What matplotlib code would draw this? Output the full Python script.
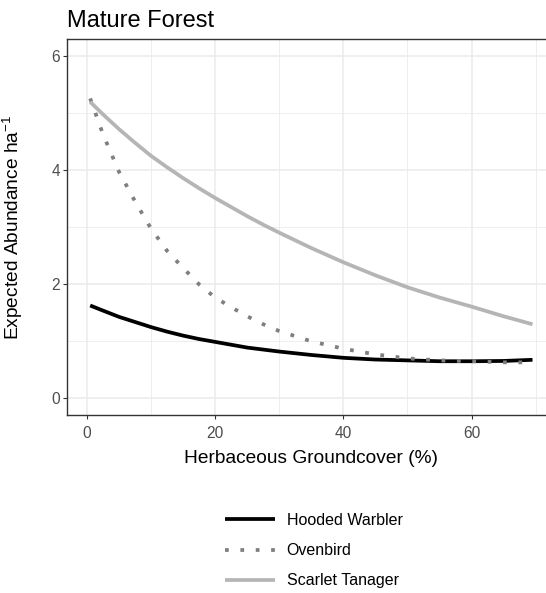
import matplotlib
matplotlib.use("Agg")
import matplotlib.pyplot as plt
from matplotlib.ticker import MultipleLocator

plt.rcParams["font.family"] = ["Liberation Sans", "DejaVu Sans"]
plt.rcParams["mathtext.fontset"] = "custom"
plt.rcParams["mathtext.rm"] = "Liberation Sans"
plt.rcParams["mathtext.it"] = "Liberation Sans:italic"

# herbaceous groundcover (%)
cover = [0.5, 2.5, 5, 7.5, 10, 12.5, 15, 17.5, 20, 22.5, 25, 27.5, 30,
         35, 40, 45, 50, 55, 60, 65, 69.5]

hooded_warbler = [1.62, 1.53, 1.42, 1.33, 1.24, 1.16, 1.09, 1.03, 0.98, 0.93,
                  0.88, 0.845, 0.81, 0.75, 0.70, 0.67, 0.655, 0.64, 0.64,
                  0.645, 0.665]
ovenbird = [5.26, 4.63, 3.97, 3.45, 2.97, 2.58, 2.28, 1.99, 1.76, 1.59, 1.43,
            1.29, 1.17, 0.99, 0.86, 0.76, 0.69, 0.655, 0.64, 0.62, 0.62]
scarlet_tanager = [5.20, 4.98, 4.72, 4.48, 4.25, 4.05, 3.86, 3.68, 3.51, 3.35,
                   3.19, 3.04, 2.90, 2.63, 2.38, 2.15, 1.94, 1.76, 1.60, 1.43,
                   1.29]

species = ["Hooded Warbler", "Ovenbird", "Scarlet Tanager"]
x_ticks = [0, 20, 40, 60]
y_ticks = [0, 2, 4, 6]

W, H = 546, 593
fig = plt.figure(figsize=(W / 100, H / 100), dpi=100)
# panel runs past the right edge of the image, like the original crop
ax = fig.add_axes([67.3 / W, (H - 414.7) / H, (554.6 - 67.3) / W, (414.7 - 39.3) / H])

lw = 2.7
ax.plot(cover, hooded_warbler, color="black", lw=lw, label=species[0],
        solid_capstyle="butt")
ax.plot(cover, ovenbird, color="#7f7f7f", lw=lw, label=species[1],
        dashes=(1, 3.1), dash_capstyle="butt")
ax.plot(cover, scarlet_tanager, color="#b5b5b5", lw=lw, label=species[2],
        solid_capstyle="butt")

ax.set_xlim(-3.07, 72.95)
ax.set_ylim(-0.3, 6.3)
ax.set_xticks(x_ticks)
ax.set_yticks(y_ticks)
ax.xaxis.set_minor_locator(MultipleLocator(10))
ax.yaxis.set_minor_locator(MultipleLocator(1))
ax.grid(which="major", color="#ebebeb", lw=1.1)
ax.grid(which="minor", color="#ebebeb", lw=0.6)
ax.set_axisbelow(True)
ax.tick_params(which="minor", length=0)
ax.tick_params(which="major", length=2.9, width=0.8, color="#333333",
               labelcolor="#4d4d4d", labelsize=11.2)
ax.tick_params(axis="x", pad=5)
ax.tick_params(axis="y", pad=2.2)
for s in ax.spines.values():
    s.set_color("#333333")
    s.set_linewidth(1.0)
ax.spines["right"].set_visible(False)

ax.set_xlabel("Herbaceous Groundcover (%)", fontsize=13.8, labelpad=6.5)
ax.set_ylabel(r"Expected Abundance ha$^{\mathregular{-1}}$", fontsize=13.8)
ax.yaxis.set_label_coords(25 / W, (H - 227) / H, transform=fig.transFigure)

fig.text(66.7 / W, 1 - 27 / H, "Mature Forest", fontsize=17, va="baseline",
         ha="left")

fig.legend(loc="upper left", bbox_to_anchor=(225 / W, 1 - 513 / H),
           frameon=False, fontsize=11.5, handlelength=3.13,
           handletextpad=0.73, labelspacing=0.95, borderpad=0,
           borderaxespad=0)

fig.savefig("out.png", dpi=100)
